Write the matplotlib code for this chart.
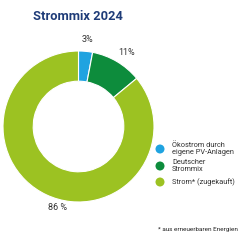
import matplotlib
matplotlib.use('Agg')
import matplotlib.pyplot as plt

# data
labels = ["Ökostrom durch\neigene PV-Anlagen", "Deutscher\nStrommix", "Strom* (zugekauft)"]
values = [3, 11, 86]
value_labels = ["3%", "11%", "86 %"]
colors = ["#1fa3e0", "#0d8c3c", "#9cc222"]

plt.rcParams['font.family'] = ['Roboto', 'DejaVu Sans']

W, H = 246, 245
fig = plt.figure(figsize=(W / 100, H / 100), dpi=100)

# donut
cx, cy, r = 78.5, 126.5, 75.5
ax = fig.add_axes([(cx - r) / W, (H - cy - r) / H, 2 * r / W, 2 * r / H])
ax.pie(values, colors=colors, startangle=90, counterclock=False,
       wedgeprops=dict(width=0.4, edgecolor='white', linewidth=0.8))
ax.set_xlim(-1, 1)
ax.set_ylim(-1, 1)
ax.set_aspect('equal')
ax.patch.set_visible(False)

# overlay in pixel coordinates for texts and legend
ov = fig.add_axes([0, 0, 1, 1])
ov.set_xlim(0, W)
ov.set_ylim(H, 0)
ov.axis('off')
ov.patch.set_visible(False)

ov.text(78, 17, "Strommix 2024", ha='center', va='center', fontsize=9.3,
        fontweight='bold', color='#1f3c78')

label_pos = [(87, 39), (127, 52), (58, 207)]
for (x, y), t in zip(label_pos, value_labels):
    ov.text(x, y, t, ha='center', va='center', fontsize=6.5, color='#333333')

# legend
leg_y = [149, 166, 182]
for yy, lab, c in zip(leg_y, labels, colors):
    ov.scatter([160], [yy], s=42, color=c, edgecolors='none')
    ov.text(172, yy, lab, ha='left', va='center', fontsize=5.3,
            color='#333333', linespacing=1.05)

ov.text(158, 229, "* aus erneuerbaren Energien", ha='left', va='center',
        fontsize=4.6, color='#222222')

fig.savefig("out.png", dpi=100)
